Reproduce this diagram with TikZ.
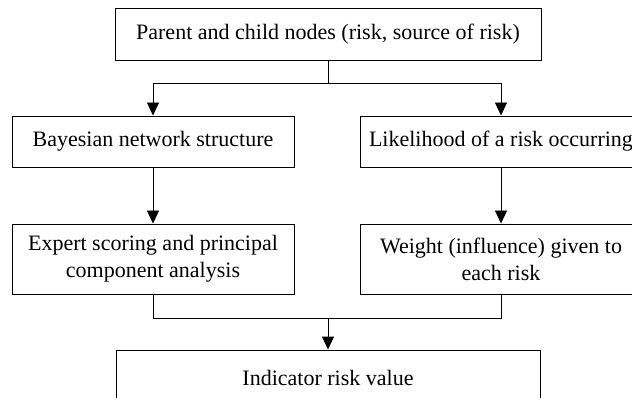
\documentclass[tikz,border=0pt]{standalone}
\usepackage{fontspec}
\setmainfont{Liberation Serif}
\usepackage{tikz}
\usetikzlibrary{arrows.meta}

\begin{document}
\begin{tikzpicture}[x=1pt,y=-1pt,
  box/.style={draw,line width=0.9pt,align=center,inner sep=0pt,
    font=\fontsize{22}{27}\selectfont},
  arr/.style={line width=0.9pt,-{Triangle[length=13pt,width=12pt]}},
  ln/.style={line width=0.9pt}]
\useasboundingbox (0,0) rectangle (632,398);
% boxes
\node[box,minimum width=426pt,minimum height=52pt] (par) at (328,34) {Parent and child nodes (risk, source of risk)};
\node[box,minimum width=282pt,minimum height=51pt] (bay) at (153,141.5) {Bayesian network structure};
\node[box,minimum width=282pt,minimum height=51pt] (lik) at (501,141.5) {Likelihood of a risk occurring};
\node[box,minimum width=282pt,minimum height=70pt] (exp) at (153,259) {Expert scoring and principal\\component analysis};
\node[box,minimum width=282pt,minimum height=70pt] (wei) at (501,259) {Weight (influence) given to\\each risk};
\node[box,minimum width=424pt,minimum height=56pt] (ind) at (328,378) {Indicator risk value};
% connectors
\coordinate (jt) at (328,83);
\coordinate (jb) at (328,318);
\draw[ln] (par.south) -- (jt);
\draw[arr] (jt) -| (bay.north);
\draw[arr] (jt) -| (lik.north);
\draw[arr] (bay.south) -- (exp.north);
\draw[arr] (lik.south) -- (wei.north);
\draw[ln] (exp.south) |- (jb);
\draw[ln] (wei.south) |- (jb);
\draw[arr] (jb) -- (ind.north);
\end{tikzpicture}
\end{document}
